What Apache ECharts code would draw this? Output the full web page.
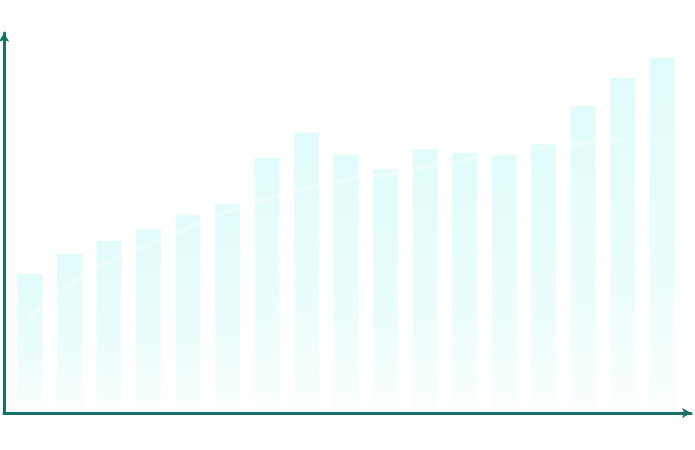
<!DOCTYPE html>
<html>
<head>
<meta charset="utf-8">
<script src="https://cdn.jsdelivr.net/npm/echarts@6/dist/echarts.min.js"></script>
<style>
  html, body { margin: 0; padding: 0; background: #ffffff; }
  #chart { width: 695px; height: 450px; }
</style>
</head>
<body>
<div id="chart"></div>
<script>
// 数据
var categories = ['1', '2', '3', '4', '5', '6', '7', '8', '9', '10', '11', '12', '13', '14', '15', '16', '17'];
var barValues = [35.6, 40.9, 44.4, 47.6, 51.3, 54.3, 66.6, 73.3, 67.4, 63.6, 69.0, 67.9, 67.4, 70.3, 80.5, 88.0, 93.3];
var lineValues = [23.8, 32.6, 38.8, 43.3, 47.9, 52.4, 55.6, 58.3, 60.7, 62.0, 64.2, 66.0, 68.2, 69.5, 70.6, 71.4];

var chart = echarts.init(document.getElementById('chart'));

var axisColor = '#18706a';

var option = {
  animation: false,
  grid: [
    // 坐标轴
    { left: 4, right: 4, top: 33, bottom: 37 },
    // 柱子
    { left: 10.25, right: 13, top: 33, bottom: 43 }
  ],
  xAxis: [{
    gridIndex: 0,
    type: 'value',
    min: 0,
    max: 1,
    axisLine: {
      show: true,
      symbol: ['none', 'arrow'],
      symbolSize: [8, 9],
      lineStyle: { color: axisColor, width: 3 }
    },
    axisTick: { show: false },
    axisLabel: { show: false },
    splitLine: { show: false }
  }, {
    gridIndex: 1,
    type: 'category',
    data: categories,
    show: false
  }],
  yAxis: [{
    gridIndex: 0,
    type: 'value',
    min: 0,
    max: 1,
    axisLine: {
      show: true,
      symbol: ['none', 'arrow'],
      symbolSize: [8, 9],
      lineStyle: { color: axisColor, width: 3 }
    },
    axisTick: { show: false },
    axisLabel: { show: false },
    splitLine: { show: false }
  }, {
    gridIndex: 1,
    type: 'value',
    min: 0,
    max: 100,
    show: false
  }],
  series: [{
    type: 'bar',
    xAxisIndex: 1,
    yAxisIndex: 1,
    data: barValues,
    barWidth: 25,
    itemStyle: {
      color: new echarts.graphic.LinearGradient(0, 0, 0, 1, [
        { offset: 0, color: '#e0fcfa' },
        { offset: 0.6, color: '#ebfdfc' },
        { offset: 1, color: '#f9fffe' }
      ])
    }
  }, {
    type: 'line',
    xAxisIndex: 1,
    yAxisIndex: 1,
    data: lineValues,
    smooth: true,
    showSymbol: false,
    lineStyle: { color: 'rgba(255,255,255,0.3)', width: 5 },
    z: 3
  }]
};

chart.setOption(option);
</script>
</body>
</html>
